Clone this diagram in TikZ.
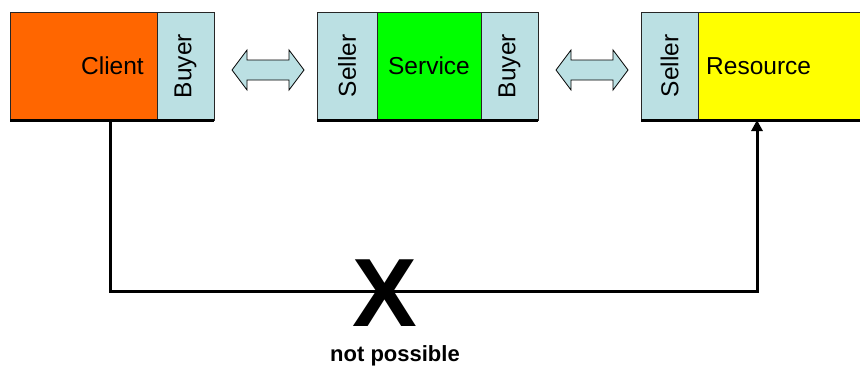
\documentclass[tikz,border=0pt]{standalone}
\usepackage{fontspec}
\setmainfont{Liberation Sans}
\usetikzlibrary{arrows.meta,calc}
\definecolor{lblue}{HTML}{BBE0E3}
\definecolor{corange}{HTML}{FF6600}
\definecolor{cgreen}{HTML}{00FF00}
\definecolor{cyellow}{HTML}{FFFF00}
\begin{document}
\begin{tikzpicture}[x=1pt,y=-1pt,
  cell/.style={draw=black!85, line width=0.8pt, minimum height=108pt, inner sep=0pt, outer sep=0pt, anchor=north west},
  lbl/.style={font=\fontsize{24.5}{27}\selectfont, inner sep=0pt},
  sidelbl/.style={lbl, rotate=90},
  base/.style={line width=3pt},
  blockarrow/.pic={\draw[fill=lblue, draw=black, line width=0.8pt]
     (-36,0) -- (-21,-20) -- (-21,-10) -- (21,-10) -- (21,-20) -- (36,0)
     -- (21,20) -- (21,10) -- (-21,10) -- (-21,20) -- cycle;},
]
\useasboundingbox (0,0) rectangle (860,370);
\clip (0,0) rectangle (860,370);
% group 1
\node[cell, fill=corange, minimum width=147pt] (client) at (10,12) {};
\node[cell, fill=lblue, minimum width=57pt] (buyer1) at (client.north east) {};
\node[lbl, anchor=east] (clienttxt) at ([xshift=-13pt]client.east) {Client};
\node[sidelbl] (buyer1txt) at (buyer1.center) {Buyer};
\draw[base] (client.south west) -- (buyer1.south east);
% group 2
\node[cell, fill=lblue, minimum width=60pt] (seller2) at (317,12) {};
\node[cell, fill=cgreen, minimum width=104pt] (service) at (seller2.north east) {};
\node[cell, fill=lblue, minimum width=57pt] (buyer2) at (service.north east) {};
\node[sidelbl] (seller2txt) at (seller2.center) {Seller};
\node[lbl] (servicetxt) at (service.center) {Service};
\node[sidelbl] (buyer2txt) at (buyer2.center) {Buyer};
\draw[base] (seller2.south west) -- (buyer2.south east);
% group 3
\node[cell, fill=lblue, minimum width=57pt] (seller3) at (641,12) {};
\node[cell, fill=cyellow, minimum width=170pt] (resource) at (seller3.north east) {};
\node[sidelbl] (seller3txt) at (seller3.center) {Seller};
\node[lbl, anchor=west] (resourcetxt) at ([xshift=8pt]resource.west) {Resource};
\draw[base] (seller3.south west) -- (resource.south east);
% block arrows
\pic at ($($(buyer1.east)!0.5!(seller2.west)$)+(2.5,4)$) {blockarrow};
\pic at ($($(buyer2.east)!0.5!(seller3.west)$)+(2.5,4)$) {blockarrow};
% connector
\coordinate (start) at ([xshift=100pt]client.south west);
\coordinate (goal) at ([xshift=59pt]resource.south west);
\draw[base, -{Triangle[length=11pt,width=11pt]}] (start) -- ++(0,171) -| (goal);
\node[font=\fontsize{97}{97}\selectfont\bfseries, inner sep=0pt] (cross) at (385,293) {X};
\node[font=\fontsize{22}{24}\selectfont\bfseries, inner sep=0pt] (np) at (395,356) {not possible};
\end{tikzpicture}
\end{document}
